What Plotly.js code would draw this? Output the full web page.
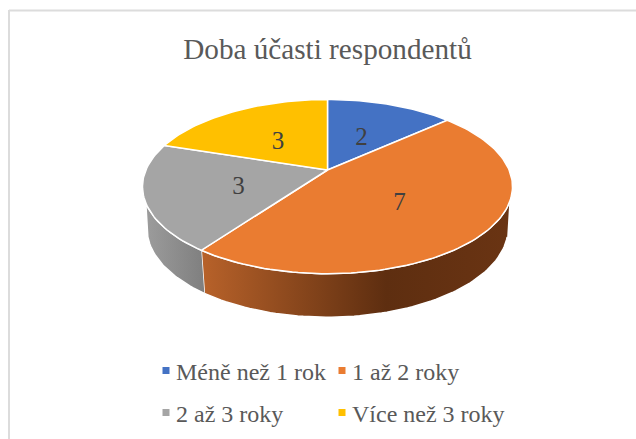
<!DOCTYPE html>
<html>
<head>
<meta charset="utf-8">
<script src="https://cdn.plot.ly/plotly-3.0.1.min.js"></script>
<style>
html,body{margin:0;padding:0;background:#fff}
#chart{width:636px;height:439px}
.legendtext,.legend2text,.legend3text,.legend4text{transform:translateX(-10px)}
</style>
</head>
<body>
<div id="chart"></div>
<script>
var categories = ["Méně než 1 rok", "1 až 2 roky", "2 až 3 roky", "Více než 3 roky"];
var values = [2, 7, 3, 3];
var topColors = ["#4472c4", "#ea7c31", "#a5a5a5", "#ffc000"];
var chartTitle = "Doba účasti respondentů";

// Perspective projection of the disc
var CX = 327.5, APEX = 170, A = 181.6, B = 83.9, K = 0.1908, ELLY = 186.5;
var LOW_SX = 0.9756, LOW_SY = 1.017, LOW_CY = 228.5;
function rad(d){ return d * Math.PI / 180; }
function proj(deg, rho){
  var u = rho * Math.sin(rad(deg)), v = rho * Math.cos(rad(deg)), w = 1 + K * v;
  return [CX + A * u / w, APEX - B * v / w];
}
function low(deg){
  var p = proj(deg, 1);
  return [CX + (p[0] - CX) * LOW_SX, LOW_CY + (p[1] - ELLY) * LOW_SY];
}
function arc(fn, a, b){
  var out = [], n = Math.max(2, Math.ceil(Math.abs(b - a) / 1.5));
  for (var i = 0; i <= n; i++) out.push(fn(a + (b - a) * i / n));
  return out;
}
var total = values.reduce(function(s, v){ return s + v; }, 0);
var edges = [0];
values.forEach(function(v, i){ edges.push(edges[i] + v / total * 360); });

var traces = [];
function poly(pts, extra){
  var t = {x: pts.map(function(p){return p[0];}), y: pts.map(function(p){return p[1];}),
    type: "scatter", mode: "lines", fill: "toself", hoverinfo: "skip", showlegend: false,
    line: {color: "#ffffff", width: 1.5}};
  for (var k in extra) t[k] = extra[k];
  return t;
}
var top1 = function(d){ return proj(d, 1); };
// visible wall of slice 2 (front-right) and slice 3 (front-left)
var rimR = [111.4, 106.3], rimL = [248.6, 253.7];
traces.push(poly(arc(top1, rimR[0], edges[2]).concat(arc(low, edges[2], rimR[1])), {
  fillcolor: "#7a3b14",
  fillgradient: {type: "horizontal", colorscale: [[0, "#b8622a"], [0.6, "#5e2e10"], [1, "#6a3413"]]}
}));
traces.push(poly(arc(top1, edges[2], rimL[0]).concat(arc(low, rimL[1], edges[2])), {
  fillcolor: "#8f8f8f",
  fillgradient: {type: "horizontal", colorscale: [[0, "#9c9c9c"], [1, "#7f7f7f"]]}
}));
// top faces
values.forEach(function(v, i){
  var pts = [[CX, APEX]].concat(arc(top1, edges[i], edges[i + 1]));
  pts.push([CX, APEX]);
  traces.push(poly(pts, {fillcolor: topColors[i]}));
});
// data labels
var labelPts = values.map(function(v, i){ return proj((edges[i] + edges[i + 1]) / 2, 0.5); });
traces.push({
  x: labelPts.map(function(p){return p[0];}), y: labelPts.map(function(p){return p[1] + 4;}),
  type: "scatter", mode: "text", text: values.map(String), textposition: "middle center",
  textfont: {family: "Liberation Serif", size: 25, color: "#404040"},
  hoverinfo: "skip", showlegend: false
});
// legend entries: two rows, two per row
var legendIds = ["legend", "legend2", "legend3", "legend4"];
categories.forEach(function(c, i){
  traces.push({
    x: [null], y: [null], type: "scatter", mode: "markers", name: c,
    marker: {symbol: "square", size: 7, color: topColors[i]},
    legend: legendIds[i], showlegend: true, hoverinfo: "skip"
  });
});
function legendCfg(x, y){
  return {x: x / 636, xanchor: "left", y: 1 - y / 439, yanchor: "middle",
    bgcolor: "rgba(0,0,0,0)", borderwidth: 0, itemclick: false, itemdoubleclick: false,
    font: {family: "Liberation Serif", size: 24, color: "#595959"}};
}
var layout = {
  width: 636, height: 439, margin: {l: 0, r: 0, t: 0, b: 0},
  paper_bgcolor: "#ffffff", plot_bgcolor: "#ffffff",
  title: {text: chartTitle, x: 327.5 / 636, xanchor: "center", y: 1 - 49 / 439, yanchor: "middle",
    font: {family: "Liberation Serif", size: 29.2, color: "#595959"}},
  xaxis: {range: [0, 636], visible: false, fixedrange: true},
  yaxis: {range: [439, 0], visible: false, fixedrange: true},
  legend: legendCfg(146, 371),
  legend2: legendCfg(322, 371),
  legend3: legendCfg(146, 413),
  legend4: legendCfg(322, 413),
  shapes: [
    {type: "line", xref: "paper", yref: "paper", x0: 9 / 636, x1: 1, y0: 1 - 10.5 / 439, y1: 1 - 10.5 / 439, line: {color: "#dcdcdc", width: 2}},
    {type: "line", xref: "paper", yref: "paper", x0: 9 / 636, x1: 9 / 636, y0: 0, y1: 1 - 10 / 439, line: {color: "#dcdcdc", width: 2}}
  ],
  showlegend: true, hovermode: false
};
Plotly.newPlot("chart", traces, layout, {displayModeBar: false});
</script>
</body>
</html>
